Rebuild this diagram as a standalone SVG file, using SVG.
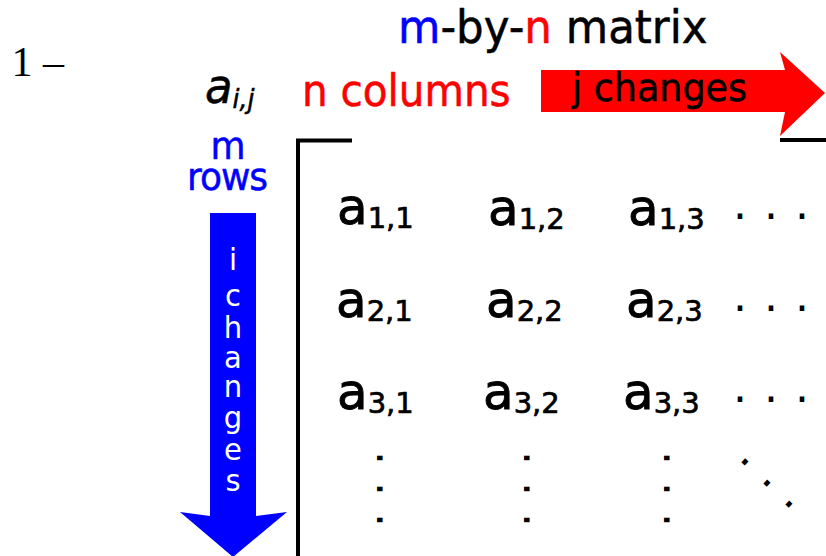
<svg xmlns="http://www.w3.org/2000/svg" width="826" height="556" viewBox="0 0 826 556">
<style>
text{font-family:"DejaVu Sans",Verdana,sans-serif;}
.serif{font-family:"Liberation Serif","Times New Roman",serif;}
.blk{fill:#000;stroke:#000;stroke-width:0.5;}
.blue{fill:#0000ff;stroke:#0000ff;stroke-width:0.5;}
.red{fill:#ff0000;stroke:#ff0000;stroke-width:0.5;}
.wht{fill:#fff;}
.ent{font-size:50px;fill:#000;stroke:#000;stroke-width:0.9;}
.sub{font-size:29px;stroke-width:0.7;}
.dots{font-size:44px;fill:#000;}
.br{fill:none;stroke:#000;stroke-width:4;}
.poly-red{fill:#ff0000;}
.poly-blue{fill:#0000ff;}
</style>
<rect width="826" height="556" fill="#fff"/>
<text class="serif" fill="#000" x="11.5" y="76" font-size="42">1 –</text>
<g id="title">
<text transform="translate(398,43) scale(1,1.08)" font-size="43.5"><tspan class="blue">m</tspan><tspan class="blk">-by-</tspan><tspan class="red">n</tspan><tspan class="blk"> matrix</tspan></text>
</g>
<g id="aij">
<text transform="translate(205,103) scale(1,1.08)" font-size="45" font-style="italic" class="blk">a<tspan font-size="25" dy="5">i,j</tspan></text>
</g>
<g id="ncolumns">
<text class="red" transform="translate(302,106) scale(1,1.08)" font-size="40.5">n columns</text>
</g>
<g id="mrows">
<text class="blue" transform="translate(228,159) scale(1,1.08)" font-size="36" text-anchor="middle">m</text>
<text class="blue" transform="translate(227,190) scale(1,1.08)" font-size="36" text-anchor="middle" letter-spacing="-1">rows</text>
</g>
<g id="connectors">
<polygon id="j-arrow" class="poly-red" points="541,70 785,70 780,52 825,93 780,136 785,112 541,112"/>
<polygon id="i-arrow" class="poly-blue" points="210,213 256,213 256,516 287,512 233,557 180,512 210,516"/>
</g>
<g id="jchanges">
<text class="blk" transform="translate(572,101) scale(1,1.08)" font-size="36.5" stroke-width="0.3">j changes</text>
</g>
<g id="ichanges" class="wht" font-size="29" text-anchor="middle">
<text transform="translate(233,270) scale(1,1.05)">i</text>
<text transform="translate(233,306) scale(1,1.05)">c</text>
<text transform="translate(233,337.5) scale(1,1.05)">h</text>
<text transform="translate(233,368) scale(1,1.05)">a</text>
<text transform="translate(233,397) scale(1,1.05)">n</text>
<text transform="translate(233,428) scale(1,1.05)">g</text>
<text transform="translate(233,460) scale(1,1.05)">e</text>
<text transform="translate(233,490.5) scale(1,1.05)">s</text>
</g>
<g id="bracket">
<path class="br" d="M352,140.5 H298 V556"/>
<path class="br" d="M780,140 H826"/>
</g>
<g id="entries">
<text class="ent" x="337" y="224">a<tspan class="sub" dy="4">1,1</tspan></text>
<text class="ent" x="488" y="225">a<tspan class="sub" dy="4">1,2</tspan></text>
<text class="ent" x="628" y="225">a<tspan class="sub" dy="4">1,3</tspan></text>
<text class="ent" x="336" y="317">a<tspan class="sub" dy="4">2,1</tspan></text>
<text class="ent" x="486" y="317">a<tspan class="sub" dy="4">2,2</tspan></text>
<text class="ent" x="626" y="317">a<tspan class="sub" dy="4">2,3</tspan></text>
<text class="ent" x="337" y="409">a<tspan class="sub" dy="4">3,1</tspan></text>
<text class="ent" x="483" y="409">a<tspan class="sub" dy="4">3,2</tspan></text>
<text class="ent" x="623" y="409">a<tspan class="sub" dy="4">3,3</tspan></text>
</g>
<g id="dots">
<text class="dots" x="733 764 795" y="219">...</text>
<text class="dots" x="733 764 795" y="311">...</text>
<text class="dots" x="733 764 795" y="402">...</text>
<text class="dots" transform="translate(377,451) rotate(90)" x="0 31 62" y="0">...</text>
<text class="dots" transform="translate(524,451) rotate(90)" x="0 31 62" y="0">...</text>
<text class="dots" transform="translate(664,451) rotate(90)" x="0 31 62" y="0">...</text>
<text class="dots" transform="translate(738,459) rotate(44)" x="0 30.5 61" y="0">...</text>
</g>
</svg>
